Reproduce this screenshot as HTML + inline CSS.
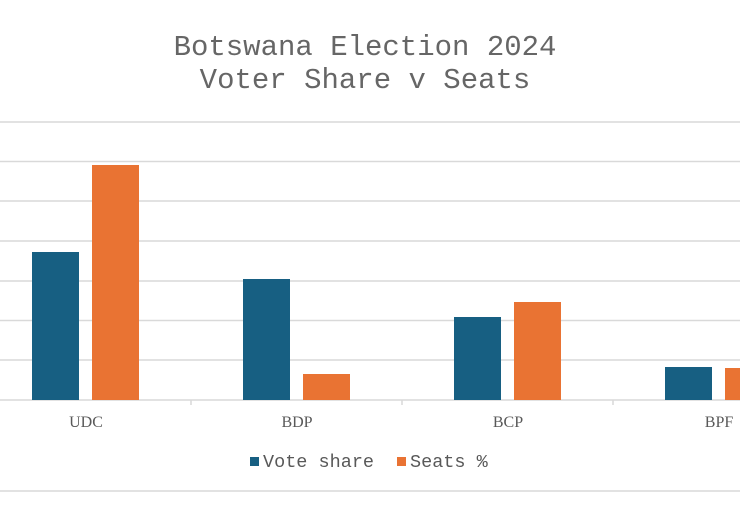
<!DOCTYPE html>
<html><head><style>body{margin:0;background:#fff}</style></head><body>
<svg width="740" height="508" xmlns="http://www.w3.org/2000/svg">
<rect width="740" height="508" fill="#fff"/>
<g font-family="Liberation Mono, monospace" fill="#666" font-size="29" text-anchor="middle">
<text x="365" y="55">Botswana Election 2024</text>
<text x="365" y="88">Voter Share v Seats</text>
</g>
<g stroke="#d9d9d9" stroke-width="1.5">
<line x1="0" x2="740" y1="122" y2="122"/>
<line x1="0" x2="740" y1="161.5" y2="161.5"/>
<line x1="0" x2="740" y1="201" y2="201"/>
<line x1="0" x2="740" y1="241" y2="241"/>
<line x1="0" x2="740" y1="281" y2="281"/>
<line x1="0" x2="740" y1="320.5" y2="320.5"/>
<line x1="0" x2="740" y1="360" y2="360"/>
<line x1="0" x2="740" y1="400" y2="400"/>
<line x1="191" x2="191" y1="400" y2="405"/>
<line x1="402" x2="402" y1="400" y2="405"/>
<line x1="613" x2="613" y1="400" y2="405"/>
<line x1="0" x2="740" y1="491" y2="491"/>
</g>
<g fill="#175f82">
<rect x="32" y="252" width="47" height="148"/>
<rect x="243" y="279" width="47" height="121"/>
<rect x="454" y="317" width="47" height="83"/>
<rect x="665" y="367" width="47" height="33"/>
</g>
<g fill="#e97333">
<rect x="92" y="165" width="47" height="235"/>
<rect x="303" y="374" width="47" height="26"/>
<rect x="514" y="302" width="47" height="98"/>
<rect x="725" y="368" width="47" height="32"/>
</g>
<g font-family="Liberation Serif, serif" font-size="16" fill="#595959" text-anchor="middle">
<text x="86" y="427">UDC</text>
<text x="297" y="427">BDP</text>
<text x="508" y="427">BCP</text>
<text x="719" y="427">BPF</text>
</g>
<rect x="250" y="457" width="9" height="9" fill="#175f82"/>
<rect x="397" y="457" width="9" height="9" fill="#e97333"/>
<g font-family="Liberation Mono, monospace" font-size="18.5" fill="#595959">
<text x="263" y="467">Vote share</text>
<text x="410" y="467">Seats %</text>
</g>
</svg>
</body></html>
